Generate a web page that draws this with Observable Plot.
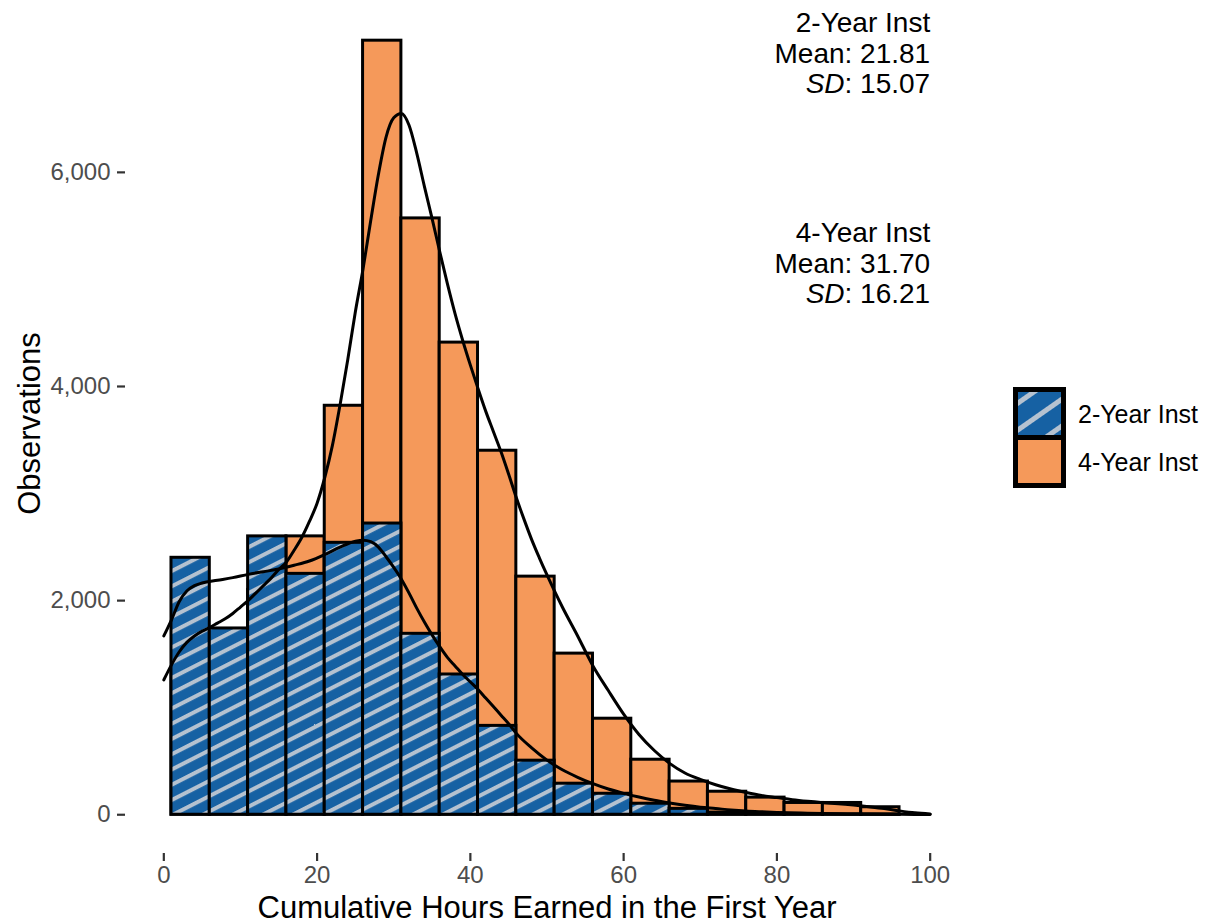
<!DOCTYPE html>
<html>
<head>
<meta charset="utf-8">
<script src="https://cdn.jsdelivr.net/npm/d3@7"></script>
<script src="https://cdn.jsdelivr.net/npm/@observablehq/plot@0.6"></script>
<style>
  html, body { margin: 0; padding: 0; background: #fff; }
  #chart { width: 1206px; height: 924px; }
</style>
</head>
<body>
<div id="chart"></div>
<script>
// ---------- data ----------
const categories = ["2-Year Inst", "4-Year Inst"];
const binLo = [1, 6, 11, 16, 21, 26, 31, 36, 41, 46, 51, 56, 61, 66, 71, 76, 81, 86, 91];
const binHi = [6, 11, 16, 21, 26, 31, 36, 41, 46, 51, 56, 61, 66, 71, 76, 81, 86, 91, 96];
const twoYearCounts  = [2400, 1740, 2600, 2250, 2540, 2720, 1690, 1310, 830, 505, 290, 196, 103, 55, 20, 10, 5, 3, 2];
const fourYearCounts = [1350, 1650, 2100, 2600, 3820, 7230, 5570, 4410, 3400, 2224, 1505, 897, 514, 310, 215, 160, 110, 110, 70];

const dens2X = [0, 1, 2, 3, 4, 5, 7, 9, 11, 13, 15, 17, 19, 21, 23, 25, 26, 27, 28, 29, 30, 31, 32, 33, 34, 35, 36, 37, 38, 39, 40, 41, 42, 43, 44, 45, 46, 48, 50, 52, 54, 56, 58, 60, 62, 64, 66, 68, 70, 72, 74, 76, 78, 80, 84, 88, 92, 96, 100];
const dens2Y = [1670, 1820, 1990, 2090, 2140, 2165, 2190, 2215, 2245, 2270, 2295, 2330, 2370, 2430, 2500, 2555, 2565, 2550, 2500, 2410, 2310, 2200, 2070, 1930, 1800, 1680, 1570, 1470, 1390, 1310, 1240, 1170, 1090, 1010, 930, 850, 760, 625, 510, 420, 350, 290, 240, 200, 165, 135, 110, 88, 70, 58, 45, 35, 28, 22, 14, 9, 6, 4, 2];

const dens4X = [0, 1, 2, 3, 4, 5, 6, 7, 8, 9, 10, 11, 12, 13, 14, 15, 16, 17, 18, 19, 20, 21, 22, 23, 24, 25, 26, 27, 28, 29, 30, 31, 32, 33, 34, 35, 36, 37, 38, 39, 40, 41, 42, 43, 44, 45, 46, 47, 48, 49, 50, 52, 54, 56, 58, 60, 62, 64, 66, 68, 70, 72, 74, 76, 78, 80, 82, 84, 86, 88, 90, 92, 94, 96, 98, 100];
const dens4Y = [1260, 1400, 1520, 1610, 1670, 1715, 1750, 1790, 1830, 1880, 1940, 2000, 2070, 2140, 2210, 2290, 2360, 2470, 2590, 2740, 2910, 3150, 3450, 3830, 4250, 4700, 5100, 5550, 5980, 6330, 6510, 6550, 6440, 6180, 5870, 5570, 5260, 4960, 4680, 4430, 4200, 3980, 3770, 3580, 3390, 3180, 2960, 2760, 2570, 2400, 2240, 1940, 1670, 1390, 1160, 940, 750, 600, 480, 390, 330, 280, 240, 208, 180, 160, 140, 125, 113, 103, 90, 75, 58, 36, 18, 8];

const xTicks = [0, 20, 40, 60, 80, 100];
const yTicks = [0, 2000, 4000, 6000];
const annLabels = ["2-Year Inst", "4-Year Inst"];
const annMeans = ["21.81", "31.70"];
const annSDs = ["15.07", "16.21"];
const annY = [7510, 5550];
const xTitle = "Cumulative Hours Earned in the First Year";
const yTitle = "Observations";

// ---------- derived tables ----------
const bars = binLo.map((lo, i) => ({lo, hi: binHi[i], two: twoYearCounts[i], four: fourYearCounts[i]}));
const d2 = dens2X.map((x, i) => ({x, y: dens2Y[i]}));
const d4 = dens4X.map((x, i) => ({x, y: dens4Y[i]}));
const ann = annLabels.map((l, i) => ({x: 100, y: annY[i], text: `${l}\nMean: ${annMeans[i]}\nSD: ${annSDs[i]}`}));

const BLUE = "#1661a3";
const STRIPE = "#b5c2d0";
const ORANGE = "#f5995a";
const FONT = "'Liberation Sans', Arial, Helvetica, sans-serif";

const plot = Plot.plot({
  width: 1206,
  height: 924,
  marginLeft: 125,
  marginRight: 238,
  marginTop: 1,
  marginBottom: 71,
  style: {fontFamily: FONT, background: "#fff", overflow: "visible"},
  x: {domain: [-5, 105]},
  y: {domain: [-362, 7596]},
  marks: [
    Plot.rect(bars, {x1: "lo", x2: "hi", y1: 0, y2: "four", fill: ORANGE, stroke: "#000", strokeWidth: 3}),
    Plot.rect(bars, {x1: "lo", x2: "hi", y1: 0, y2: "two", fill: "url(#hatch)", stroke: "#000", strokeWidth: 3}),
    Plot.line(d2, {x: "x", y: "y", stroke: "#000", strokeWidth: 3, curve: "monotone-x"}),
    Plot.line(d4, {x: "x", y: "y", stroke: "#000", strokeWidth: 3, curve: "monotone-x"}),
    Plot.axisY({ticks: yTicks, tickFormat: d3.format(","), tickSize: 8, tickPadding: 7, fontSize: 24, color: "#4d4d4d", stroke: "#333", strokeWidth: 2.2, label: null}),
    Plot.axisX({ticks: xTicks, tickFormat: d => String(d), tickSize: 8, tickPadding: 4, fontSize: 24, color: "#4d4d4d", stroke: "#333", strokeWidth: 2.2, label: null}),
    Plot.text([xTitle], {frameAnchor: "bottom", textAnchor: "middle", lineAnchor: "middle", dy: 55, fontSize: 31, fill: "#000"}),
    Plot.text([yTitle], {frameAnchor: "left", textAnchor: "middle", lineAnchor: "middle", dx: -95, dy: -4, rotate: -90, fontSize: 31, fill: "#000"}),
    Plot.text(ann, {x: "x", y: "y", text: "text", textAnchor: "end", lineAnchor: "top", lineHeight: 1.09, fontSize: 28, fill: "#000"})
  ]
});

// pattern definitions
const svg = d3.select(plot);
const defs = svg.insert("defs", ":first-child");
const pat = defs.append("pattern").attr("id", "hatch").attr("patternUnits", "userSpaceOnUse")
  .attr("width", 14).attr("height", 13.6).attr("patternTransform", "rotate(-27)");
pat.append("rect").attr("width", 14).attr("height", 13.6).attr("fill", BLUE);
pat.append("rect").attr("y", 0).attr("width", 14).attr("height", 4).attr("fill", STRIPE);
const patL = defs.append("pattern").attr("id", "hatchL").attr("patternUnits", "userSpaceOnUse")
  .attr("width", 24).attr("height", 22).attr("patternTransform", "translate(1018,400) rotate(-35)");
patL.append("rect").attr("width", 24).attr("height", 22).attr("fill", BLUE);
patL.append("rect").attr("y", 0).attr("width", 24).attr("height", 5).attr("fill", STRIPE);

// italic "SD" in annotations
svg.selectAll("tspan").each(function() {
  const t = this.textContent;
  if (t.startsWith("SD:")) {
    const rest = t.slice(2);
    this.textContent = "";
    d3.select(this).append("tspan").attr("font-style", "italic").text("SD");
    this.appendChild(document.createTextNode(rest));
  }
});

// legend
const lg = svg.append("g").attr("font-family", FONT).attr("text-anchor", "start");
const keyFill = ["url(#hatchL)", ORANGE];
categories.forEach((c, i) => {
  lg.append("rect").attr("x", 1015.5).attr("y", 389.5 + i * 48).attr("width", 48).attr("height", 48)
    .attr("fill", keyFill[i]).attr("stroke", "#000").attr("stroke-width", 5);
});
categories.forEach((c, i) => {
  lg.append("text").attr("x", 1078).attr("y", 414 + i * 48).attr("dy", "0.35em")
    .attr("text-anchor", "start").attr("font-size", 25).attr("fill", "#000").text(c);
});

document.getElementById("chart").appendChild(plot);
</script>
</body>
</html>
